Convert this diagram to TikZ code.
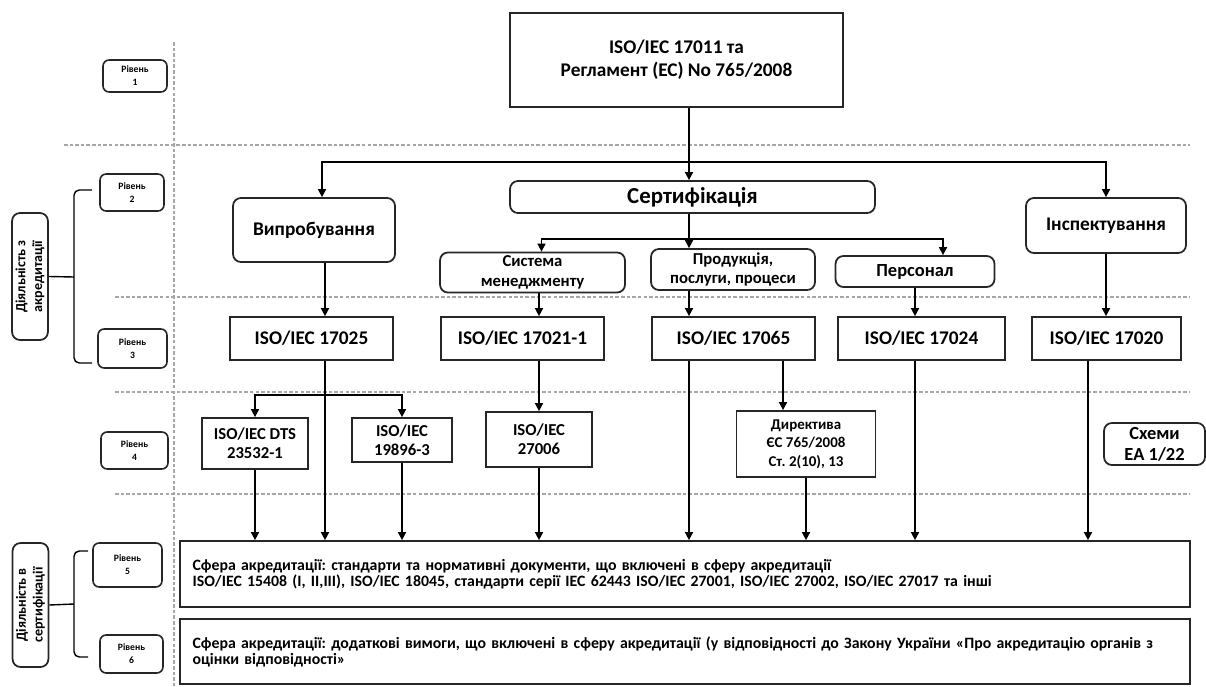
\documentclass[tikz,border=0pt]{standalone}
\usepackage{fontspec}
\setmainfont{Carlito}
\usetikzlibrary{arrows.meta,positioning,calc}
\frenchspacing

\begin{document}
\begin{tikzpicture}[
            x=0.02cm, y=-0.02cm,
            box/.style={rectangle, draw=black!85, line width=1pt, align=center, inner sep=2pt, font=\bfseries\fontsize{11}{13}\selectfont},
            rbox/.style={box, rounded corners=4.5pt},
            lvl/.style={rbox, rounded corners=3.5pt, line width=0.9pt, font=\bfseries\fontsize{5.5}{7.5}\selectfont},
            small/.style={font=\bfseries\fontsize{9.5}{11}\selectfont},
            wide/.style={box, minimum width=20.2cm, text width=19.7cm, align=left, font=\bfseries\fontsize{9}{9}\selectfont},
            group/.style={rbox, rotate=90, font=\bfseries\fontsize{8}{9.5}\selectfont},
            arrow/.style={-{Triangle[length=4.5pt,width=4.5pt]}, line width=0.9pt},
            brace/.style={line width=0.8pt, rounded corners=3pt},
            sep/.style={gray!70, dash pattern=on 2pt off 1.2pt, line width=0.6pt}
        ]
            \useasboundingbox (0,0) rectangle (1206,686);

            % Level separators
            \draw[sep] (174,42) -- (174,686);
            \draw[sep] (64,145) -- (1190,145);
            \draw[sep] (115,297) -- (1190,297);
            \draw[sep] (115,392) -- (1190,392);
            \draw[sep] (115,494) -- (1190,494);

            % Level labels
            \node[lvl, minimum width=1.28cm, minimum height=0.64cm] (lvl1) at (135,76) {Рівень\\1};
            \node[lvl, minimum width=1.28cm, minimum height=0.74cm] (lvl2) at (132,192.5) {Рівень\\2};
            \node[lvl, minimum width=1.38cm, minimum height=0.78cm] (lvl3) at (132.5,348.5) {Рівень\\3};
            \node[lvl, minimum width=1.34cm, minimum height=0.74cm] (lvl4) at (134.5,450.5) {Рівень\\4};
            \node[lvl, minimum width=1.38cm, minimum height=0.88cm] (lvl5) at (127.5,565) {Рівень\\5};
            \node[lvl, minimum width=1.26cm, minimum height=0.76cm] (lvl6) at (131.5,654) {Рівень\\6};

            % Activity groups
            \node[group, minimum width=2.54cm, minimum height=0.68cm] (grp1) at (30,276.5) {Діяльність з\\акредитації};
            \node[group, minimum width=2.48cm, minimum height=0.7cm] (grp2) at (30.5,605) {Діяльність в\\сертифікації};
            \coordinate (br1) at (74,277);
            \coordinate (br1top) at (92,190);
            \coordinate (br1bot) at (92,363);
            \coordinate (br2) at (74,604);
            \coordinate (br2top) at (88,551);
            \coordinate (br2bot) at (88,657);
            \draw[brace] (grp1.south) -- (br1);
            \draw[brace] (br1top) -| (br1) |- (br1bot);
            \draw[brace] (grp2.south) -- (br2);
            \draw[brace] (br2top) -| (br2) |- (br2bot);

            % Level 1 and 2
            \node[box, minimum width=6.66cm, minimum height=1.88cm] (top) at (676.5,60) {ISO/IEC 17011 та\\Регламент (ЕС) No 765/2008};
            \node[rbox, minimum width=7.3cm, minimum height=0.64cm, font=\bfseries\fontsize{13}{15}\selectfont] (cert) at (692.5,197) {Сертифікація};
            \node[rbox, minimum width=3.24cm, minimum height=1.28cm] (test) at (314,230) {Випробування};
            \node[rbox, minimum width=3.2cm, minimum height=1.1cm] (insp) at (1106,225.5) {Інспектування};
            \node[rbox, small, minimum width=3.7cm, minimum height=0.7cm] (sys) at (532.5,272.5) {Система\\менеджменту};
            \node[rbox, small, minimum width=3.28cm, minimum height=0.82cm] (prod) at (733,269.5) {Продукція,\\послуги, процеси};
            \node[rbox, minimum width=3.18cm, minimum height=0.62cm, font=\bfseries\fontsize{10.5}{12}\selectfont] (pers) at (915,271.5) {Персонал};

            % Level 3
            \node[box, minimum width=3.26cm, minimum height=0.86cm] (k25) at (311.5,338.5) {ISO/IEC 17025};
            \node[box, minimum width=3.26cm, minimum height=0.86cm] (k21) at (522.5,338.5) {ISO/IEC 17021-1};
            \node[box, minimum width=3.26cm, minimum height=0.86cm] (k65) at (733.5,338.5) {ISO/IEC 17065};
            \node[box, minimum width=3.34cm, minimum height=0.86cm] (k24) at (921.5,338.5) {ISO/IEC 17024};
            \node[box, minimum width=2.98cm, minimum height=0.86cm] (k20) at (1106.5,338.5) {ISO/IEC 17020};

            % Level 4
            \node[box, small, minimum width=2.12cm, minimum height=1.02cm] (dts) at (255,443.5) {ISO/IEC DTS\\23532-1};
            \node[box, small, minimum width=2cm, minimum height=0.88cm] (iso19) at (402,440) {ISO/IEC\\19896-3};
            \node[box, small, minimum width=2.12cm, minimum height=1.1cm] (iso27) at (539,439.5) {ISO/IEC\\27006};
            \node[box, minimum width=2.78cm, minimum height=1.32cm, font=\bfseries\fontsize{8.5}{10.5}\selectfont] (dir) at (806,444) {Директива\\ЄС 765/2008\\Ст. 2(10), 13};
            \node[rbox, minimum width=2.02cm, minimum height=0.84cm, font=\bfseries\fontsize{10.5}{12}\selectfont] (schemes) at (1154.5,444) {Схеми\\ЕА 1/22};

            % Level 5 and 6
            \node[wide, minimum height=1.32cm] (scope5) at (685,574) {Сфера акредитації: стандарти та нормативні документи, що включені в сферу акредитації\\ISO/IEC 15408 (I, II,III), ISO/IEC 18045, стандарти серії IEC 62443 ISO/IEC 27001, ISO/IEC 27002, ISO/IEC 27017 та інші};
            \node[wide, minimum height=1.3cm] (scope6) at (685,651.5) {Сфера акредитації: додаткові вимоги, що включені в сферу акредитації (у відповідності до Закону України «Про акредитацію органів з\\оцінки відповідності»};

            % Arrows
            \coordinate (bus) at (689,162);
            \coordinate (bus2) at (689,239);
            \coordinate (colA) at (325,395);
            \coordinate (dirin) at ([xshift=-0.46cm]dir.north);
            \coordinate (k20out) at ([xshift=-0.37cm]k20.south);
            \draw[arrow] (top.south -| bus) -- (cert.north -| bus);
            \draw[arrow] (bus) -| ([xshift=0.16cm]test.north);
            \draw[arrow] (bus) -| (insp.north);
            \draw[arrow] (cert.south -| bus) -- (prod.north -| bus);
            \draw[arrow] (bus2) -| ([xshift=0.18cm]sys.north);
            \draw[arrow] (bus2) -| ([xshift=0.56cm]pers.north);
            \draw[arrow] (test.south -| colA) -- (k25.north -| colA);
            \draw[arrow] (sys.south -| iso27) -- (k21.north -| iso27);
            \draw[arrow] (prod.south -| bus) -- (k65.north -| bus);
            \draw[arrow] (pers.south) -- (k24.north -| pers.south);
            \draw[arrow] (insp.south) -- (k20.north -| insp.south);
            \draw[arrow] (colA) -| (dts.north);
            \draw[arrow] (colA) -| (iso19.north);
            \draw[arrow] (k21.south -| iso27) -- (iso27.north);
            \draw[arrow] (k65.south -| dirin) -- (dirin);
            \draw[arrow] (dts.south) -- (scope5.north -| dts.south);
            \draw[arrow] (k25.south -| colA) -- (scope5.north -| colA);
            \draw[arrow] (iso19.south) -- (scope5.north -| iso19.south);
            \draw[arrow] (iso27.south) -- (scope5.north -| iso27.south);
            \draw[arrow] (k65.south -| bus) -- (scope5.north -| bus);
            \draw[arrow] (dir.south) -- (scope5.north -| dir.south);
            \draw[arrow] (k24.south -| pers.south) -- (scope5.north -| pers.south);
            \draw[arrow] (k20out) -- (scope5.north -| k20out);
        \end{tikzpicture}
\end{document}
